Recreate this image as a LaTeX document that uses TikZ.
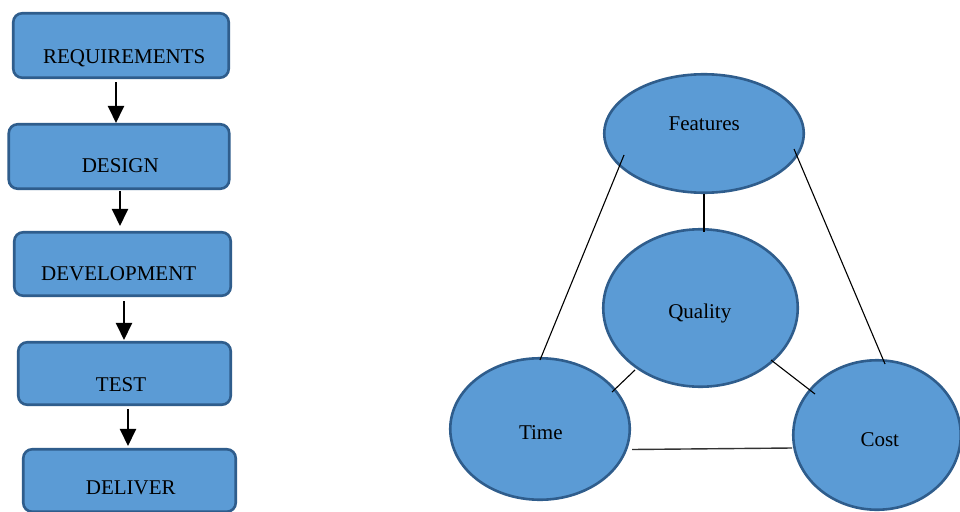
\documentclass[tikz,border=0pt]{standalone}
\usepackage{fontspec}
\setmainfont{Liberation Serif}
\usetikzlibrary{shapes.geometric,arrows.meta}
\definecolor{fillblue}{HTML}{5B9BD5}
\definecolor{edgeblue}{HTML}{2F5D8C}
\begin{document}
\begin{tikzpicture}[x=1pt,y=-1pt,
  stepbox/.style={draw=edgeblue,fill=fillblue,line width=2.6pt,rounded corners=9pt,inner sep=0pt},
  oval/.style={ellipse,draw=edgeblue,fill=fillblue,line width=2.6pt,inner sep=0pt},
  lbl/.style={inner sep=0pt,anchor=base,font=\fontsize{21}{25}\selectfont},
  flow/.style={line width=2.4pt,-{Triangle[width=16pt,length=17pt]}},
  link/.style={line width=1.1pt}]
\clip (0,0) rectangle (960,511);
\fill[white] (0,0) rectangle (960,511);

% process boxes
\node[stepbox,minimum width=215.5pt,minimum height=64.5pt] (req) at (121,45.5) {};
\node[stepbox,minimum width=220.5pt,minimum height=64.5pt] (des) at (119,156.5) {};
\node[stepbox,minimum width=216.5pt,minimum height=63.5pt] (dev) at (122.5,264) {};
\node[stepbox,minimum width=212.5pt,minimum height=62.5pt] (tst) at (124.5,373.5) {};
\node[stepbox,minimum width=212.5pt,minimum height=62.5pt] (del) at (129.5,480.5) {};

\node[lbl] (reqt) at (124.2,63.3) {REQUIREMENTS};
\node[lbl] (dest) at (120.3,172.3) {DESIGN};
\node[lbl] (devt) at (118.7,280) {DEVELOPMENT};
\node[lbl] (tstt) at (121,391.7) {TEST};
\node[lbl] (delt) at (130.8,494) {DELIVER};

% arrow columns
\coordinate (c1) at (116,0);
\coordinate (c2) at (120,0);
\coordinate (c3) at (124,0);
\coordinate (c4) at (128,0);
\draw[flow,shorten <=3pt] (req.south -| c1) -- (des.north -| c1);
\draw[flow,shorten <=1pt,shorten >=5pt] (des.south -| c2) -- (dev.north -| c2);
\draw[flow,shorten <=4pt,shorten >=1pt] (dev.south -| c3) -- (tst.north -| c3);
\draw[flow,shorten <=3pt,shorten >=2pt] (tst.south -| c4) -- (del.north -| c4);

% ellipses
\node[oval,minimum width=199.5pt,minimum height=118.5pt] (feat) at (704,133.5) {};
\node[oval,minimum width=194.5pt,minimum height=157.5pt] (qual) at (700.5,308) {};
\node[oval,minimum width=179.5pt,minimum height=141.5pt] (time) at (540,429) {};
\node[oval,minimum width=167.5pt,minimum height=149.5pt] (cost) at (877,435) {};

\node[lbl] (featt) at (704.2,130) {Features};
\node[lbl] (qualt) at (699.8,318.3) {Quality};
\node[lbl] (timet) at (540.8,439) {Time};
\node[lbl] (costt) at (879.8,446) {Cost};

% connector end points
\coordinate (fq1) at (704,194);
\coordinate (fq2) at (704,232);
\coordinate (ft1) at (624,155);
\coordinate (ft2) at (540,360);
\coordinate (fc1) at (794,149);
\coordinate (fc2) at (885,364);
\coordinate (qt1) at (635,370);
\coordinate (qt2) at (612,392);
\coordinate (qc1) at (771,360);
\coordinate (qc2) at (815,394);
\coordinate (tc1) at (632,449.5);
\coordinate (tc2) at (792,448);

\draw[link] (fq1) -- (fq2);
\draw[link] (ft1) -- (ft2);
\draw[link] (fc1) -- (fc2);
\draw[link] (qt1) -- (qt2);
\draw[link] (qc1) -- (qc2);
\draw[link,line width=1.4pt,black!80] (tc1) -- (tc2);
\end{tikzpicture}
\end{document}
